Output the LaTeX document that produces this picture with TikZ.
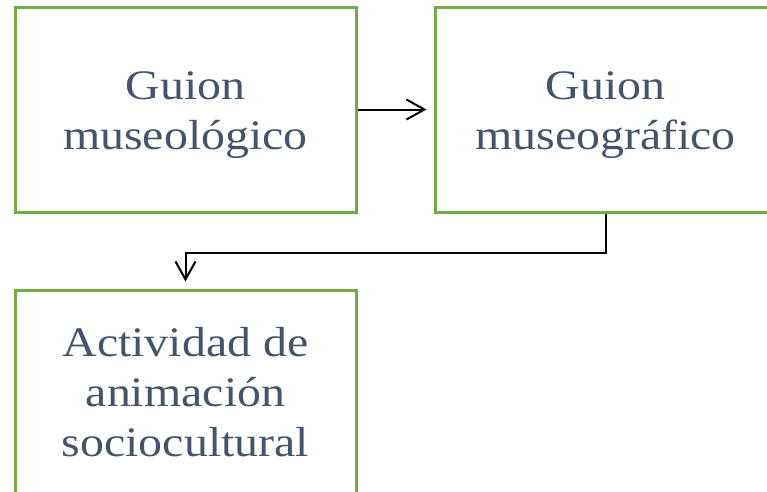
\documentclass[tikz,border=0pt]{standalone}
\usepackage{fontspec}
\setmainfont{Liberation Serif}[FakeStretch=1.14]
\usetikzlibrary{arrows.meta, positioning}
\definecolor{boxgreen}{HTML}{70AD47}
\definecolor{txtslate}{HTML}{44546A}

\begin{document}
\begin{tikzpicture}[x=1pt, y=1pt,
    guionbox/.style={rectangle, draw=boxgreen, line width=3pt, minimum width=341pt, minimum height=205pt, inner sep=0pt},
    guiontxt/.style={align=center, text=txtslate, font=\fontsize{42}{50}\selectfont, inner sep=0pt},
    arr/.style={-{Straight Barb[length=18pt, width=20pt]}, line width=2pt, shorten >=7pt}
]
\useasboundingbox (0,0) rectangle (767,-491);
\clip (0,0) rectangle (767,-491);

% Boxes
\node[guionbox] (mlg) at (185.5,-109.5) {};
\node[guionbox, right=76pt of mlg] (mgr) {};
\node[guionbox] (act) at (185.5,-392.5) {};

% Texts
\node[guiontxt] (mlgtxt) at ([yshift=-6pt]mlg.center) {Guion\\museológico};
\node[guiontxt] (mgrtxt) at ([yshift=-6pt]mgr.center) {Guion\\museográfico};
\node[guiontxt] (acttxt) at (act.center) {Actividad de\\animación\\sociocultural};

% Connectors
\draw[arr] (mlg.east) -- (mgr.west);
\draw[arr] (mgr.south) -- ++(0,-39) -| (act.north);

\end{tikzpicture}
\end{document}
